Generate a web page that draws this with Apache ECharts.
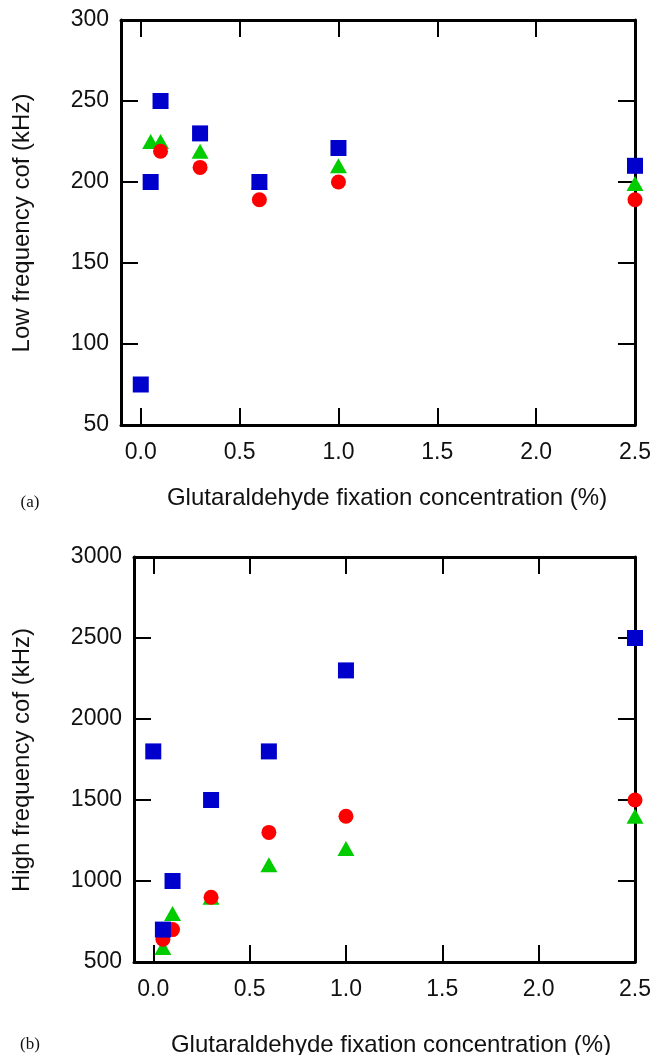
<!DOCTYPE html>
<html><head><meta charset="utf-8">
<script src="https://cdn.jsdelivr.net/npm/echarts@6/dist/echarts.min.js"></script>
<style>html,body{margin:0;padding:0;background:#fff}#c{width:655px;height:1055px}</style>
</head><body><div id="c"></div>
<script>
// tick labels
const xTicks = [0, 0.5, 1.0, 1.5, 2.0, 2.5];
const xTitle = 'Glutaraldehyde fixation concentration (%)';
const yTitleA = 'Low frequency cof (kHz)';
const yTitleB = 'High frequency cof (kHz)';

// (a) low frequency cut-off
const lowBlueX  = [0, 0.05, 0.1, 0.3, 0.6, 1.0, 2.5];
const lowBlueY  = [75, 200, 250, 230, 200, 221, 210];
const lowGreenX = [0.05, 0.1, 0.3, 0.6, 1.0, 2.5];
const lowGreenY = [225, 225, 219, 200, 210, 199];
const lowRedX   = [0.05, 0.1, 0.3, 0.6, 1.0, 2.5];
const lowRedY   = [200, 219, 209, 189, 200, 189];

// (b) high frequency cut-off
const highBlueX  = [0, 0.05, 0.1, 0.3, 0.6, 1.0, 2.5];
const highBlueY  = [1800, 700, 1000, 1500, 1800, 2300, 2500];
const highGreenX = [0.05, 0.1, 0.3, 0.6, 1.0, 2.5];
const highGreenY = [590, 800, 900, 1100, 1200, 1400];
const highRedX   = [0.05, 0.1, 0.3, 0.6, 1.0, 2.5];
const highRedY   = [640, 700, 900, 1300, 1400, 1500];

const zip = (xs, ys) => xs.map((x, i) => [x, ys[i]]);
const FONT = 'Liberation Sans, Arial, sans-serif';
const TXT = '#111';

function xAxes(gi) {
  const common = {
    type: 'value', gridIndex: gi, min: -0.1, max: 2.5,
    splitLine: { show: false },
    axisLine: { show: true, onZero: false, lineStyle: { color: '#000', width: 3 } },
    axisTick: { show: true, inside: true, length: 17, customValues: xTicks, lineStyle: { color: '#000', width: 2 } }
  };
  return [
    Object.assign({}, common, { position: 'bottom',
      axisLabel: { show: true, customValues: xTicks, formatter: v => Number(v).toFixed(1),
        fontSize: 23, fontFamily: FONT, color: TXT, margin: 16 } }),
    Object.assign({}, common, { position: 'top', axisLabel: { show: false } })
  ];
}
function yAxes(gi, mn, mx, iv) {
  const common = {
    type: 'value', gridIndex: gi, min: mn, max: mx, interval: iv,
    splitLine: { show: false },
    axisLine: { show: true, onZero: false, lineStyle: { color: '#000', width: 3 } },
    axisTick: { show: true, inside: true, length: 17, lineStyle: { color: '#000', width: 2 } }
  };
  return [
    Object.assign({}, common, { position: 'left',
      axisLabel: { show: true, formatter: v => String(v), fontSize: 23, fontFamily: FONT, color: TXT, margin: 12 } }),
    Object.assign({}, common, { position: 'right', axisLabel: { show: false } })
  ];
}
function ser(xi, yi, data, sym, size, color) {
  return { type: 'scatter', xAxisIndex: xi, yAxisIndex: yi, data, symbol: sym, symbolSize: size,
    itemStyle: { color, opacity: 1 }, silent: true, animation: false };
}
const chart = echarts.init(document.getElementById('c'), null, { renderer: 'canvas' });
chart.setOption({
  animation: false,
  backgroundColor: '#fff',
  grid: [
    { left: 121, top: 20, width: 514, height: 405 },
    { left: 134, top: 557, width: 501, height: 405 }
  ],
  xAxis: [...xAxes(0), ...xAxes(1)],
  yAxis: [...yAxes(0, 50, 300, 50), ...yAxes(1, 500, 3000, 500)],
  series: [
    ser(0, 0, zip(lowGreenX, lowGreenY), 'triangle', [17, 15], '#00cc00'),
    ser(0, 0, zip(lowRedX, lowRedY), 'circle', 15, '#ff0000'),
    ser(0, 0, zip(lowBlueX, lowBlueY), 'rect', 16, '#0000cc'),
    ser(2, 2, zip(highGreenX, highGreenY), 'triangle', [17, 15], '#00cc00'),
    ser(2, 2, zip(highRedX, highRedY), 'circle', 15, '#ff0000'),
    ser(2, 2, zip(highBlueX, highBlueY), 'rect', 16, '#0000cc')
  ],
  graphic: [
    { type: 'text', x: 22, y: 223, rotation: Math.PI / 2,
      style: { text: yTitleA, font: '24px ' + FONT, fill: TXT, align: 'center', verticalAlign: 'middle' } },
    { type: 'text', x: 22, y: 760, rotation: Math.PI / 2,
      style: { text: yTitleB, font: '24px ' + FONT, fill: TXT, align: 'center', verticalAlign: 'middle' } },
    { type: 'text', x: 387, y: 498,
      style: { text: xTitle, font: '24px ' + FONT, fill: TXT, align: 'center', verticalAlign: 'middle' } },
    { type: 'text', x: 391, y: 1045,
      style: { text: xTitle, font: '24px ' + FONT, fill: TXT, align: 'center', verticalAlign: 'middle' } },
    { type: 'text', x: 30, y: 503,
      style: { text: '(a)', font: '17px "Liberation Serif", "Times New Roman", serif', fill: TXT, align: 'center', verticalAlign: 'middle' } },
    { type: 'text', x: 30, y: 1045,
      style: { text: '(b)', font: '17px "Liberation Serif", "Times New Roman", serif', fill: TXT, align: 'center', verticalAlign: 'middle' } }
  ]
});
</script></body></html>
